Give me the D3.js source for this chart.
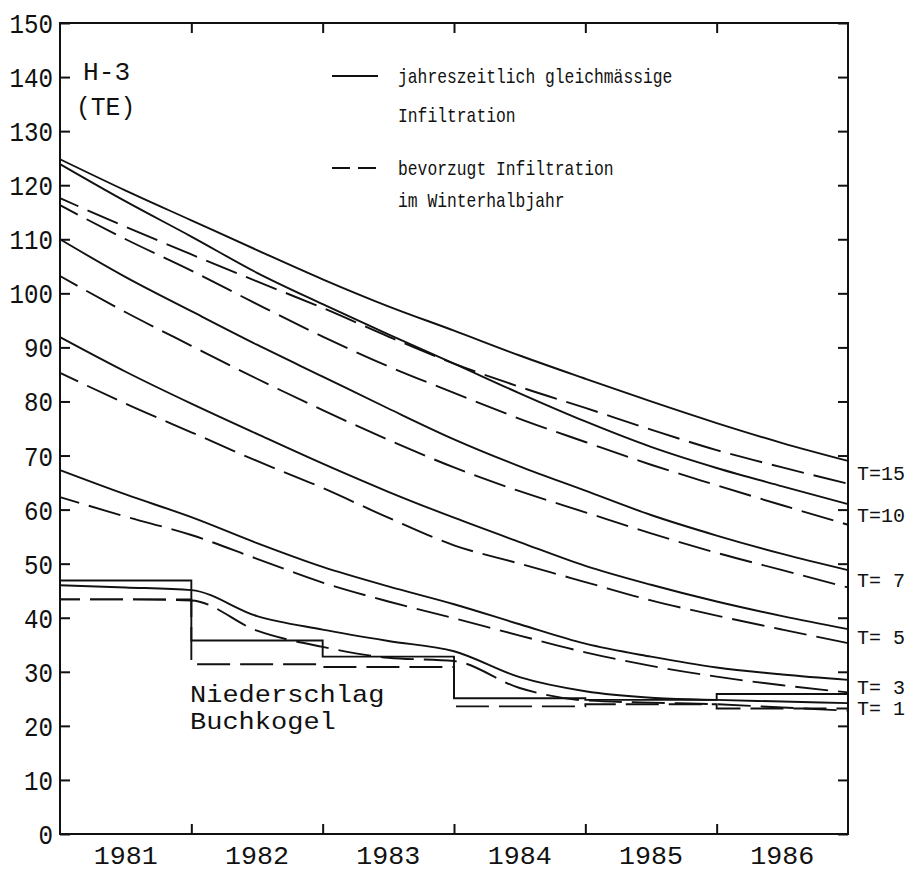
<!DOCTYPE html>
<html>
<head>
<meta charset="utf-8">
<script src="https://cdn.jsdelivr.net/npm/d3@7"></script>
<style>
  body { margin: 0; background: #fff; }
  svg text { font-family: "Liberation Mono", "DejaVu Sans Mono", monospace; fill: #111; }
</style>
</head>
<body>
<svg width="909" height="872"></svg>
<script>
// time axis: half-year sample points and year labels
var tPts = [1981, 1981.5, 1982, 1982.5, 1983, 1983.5, 1984, 1984.5, 1985, 1985.5, 1986, 1986.5, 1987];
var years = [1981, 1982, 1983, 1984, 1985, 1986];
var yearEdges = [1982, 1983, 1984, 1985, 1986];
var yTicks = [0, 10, 20, 30, 40, 50, 60, 70, 80, 90, 100, 110, 120, 130, 140, 150];

// model curves (TE)
var t15Solid  = [124.8, 119.0, 113.5, 108.0, 102.6, 97.6, 93.1, 88.5, 84.2, 80.0, 76.0, 72.3, 69.0];
var t15Dashed = [117.6, 112.3, 107.2, 102.2, 97.3, 92.0, 87.0, 82.7, 78.8, 74.8, 71.0, 67.8, 64.8];
var t10Solid  = [123.9, 117.0, 110.5, 103.8, 98.0, 92.4, 87.0, 81.5, 76.3, 71.6, 67.7, 64.3, 61.0];
var t10Dashed = [116.3, 110.0, 104.2, 98.0, 92.0, 86.5, 81.6, 76.8, 72.5, 68.3, 64.5, 60.8, 57.2];
var t7Solid   = [110.0, 103.0, 96.7, 90.5, 84.6, 78.7, 73.0, 68.0, 63.5, 59.0, 55.2, 51.8, 48.8];
var t7Dashed  = [103.2, 96.5, 90.3, 84.2, 78.4, 72.9, 67.8, 63.4, 59.5, 55.6, 52.0, 48.8, 45.6];
var t5Solid   = [91.9, 85.5, 79.6, 74.0, 68.5, 63.3, 58.5, 54.0, 49.6, 46.1, 43.0, 40.3, 37.9];
var t5Dashed  = [85.3, 79.6, 74.3, 69.0, 64.0, 58.5, 53.4, 50.0, 46.6, 43.2, 40.4, 37.8, 35.3];
var t3Solid   = [67.3, 62.8, 58.6, 53.8, 49.4, 45.8, 42.5, 38.8, 35.2, 32.8, 30.8, 29.5, 28.5];
var t3Dashed  = [62.3, 58.7, 55.3, 50.9, 46.5, 43.0, 39.9, 36.7, 33.6, 31.1, 29.1, 27.5, 26.2];
var t1Solid   = [46.0, 45.6, 45.1, 40.3, 37.8, 35.7, 33.8, 29.0, 26.4, 25.2, 24.8, 24.5, 24.2];
var t1Dashed  = [43.4, 43.4, 43.2, 37.6, 34.6, 32.6, 32.0, 27.0, 24.7, 24.3, 24.0, 23.4, 22.8];

// annual precipitation input Buchkogel (steps)
var niederschlagSolid  = [46.9, 35.8, 32.8, 25.1, 24.8, 25.9];
var niederschlagDashed = [43.4, 31.4, 30.9, 23.6, 24.0, 23.2];

var tLabels = ["T=15", "T=10", "T= 7", "T= 5", "T= 3", "T= 1"];
var series = [
  [t15Solid, t15Dashed], [t10Solid, t10Dashed], [t7Solid, t7Dashed],
  [t5Solid, t5Dashed], [t3Solid, t3Dashed], [t1Solid, t1Dashed]
];

(function() {
var svg = d3.select("svg");
svg.append("rect").attr("width", 909).attr("height", 872).attr("fill", "#fff");

var pLeft = 60, pRight = 848, pTop = 23, pBottom = 834;
var x = d3.scaleLinear().domain([1981, 1987]).range([pLeft, pRight]);
var y = d3.scaleLinear().domain([0, 150]).range([pBottom, pTop]);

// helper for squeezed plotter-like text
function label(g, px, py, s, size, cw, anchor) {
  return g.append("text")
    .attr("x", px).attr("y", py)
    .attr("font-size", size)
    .attr("text-anchor", anchor || "start")
    .attr("textLength", s.length * cw)
    .attr("lengthAdjust", "spacingAndGlyphs")
    .text(s);
}

// axes (ticks pointing inward)
function styleAxis(g) {
  g.select(".domain").remove();
  g.selectAll("line").attr("stroke", "#111").attr("stroke-width", 2);
  g.selectAll("text").remove();
}
svg.append("g").attr("transform", "translate(" + pLeft + ",0)")
  .call(d3.axisRight(y).tickValues(yTicks).tickSize(10)).call(styleAxis);
svg.append("g").attr("transform", "translate(" + pRight + ",0)")
  .call(d3.axisLeft(y).tickValues(yTicks).tickSize(10)).call(styleAxis);
svg.append("g").attr("transform", "translate(0," + pTop + ")")
  .call(d3.axisBottom(x).tickValues(yearEdges).tickSize(10)).call(styleAxis);
svg.append("g").attr("transform", "translate(0," + pBottom + ")")
  .call(d3.axisTop(x).tickValues(yearEdges).tickSize(10)).call(styleAxis);

svg.append("rect")
  .attr("x", pLeft).attr("y", pTop)
  .attr("width", pRight - pLeft).attr("height", pBottom - pTop)
  .attr("fill", "none").attr("stroke", "#111").attr("stroke-width", 2);

// tick labels
var lab = svg.append("g");
yTicks.forEach(function(v) {
  label(lab, 53, y(v) + 10, String(v), 27, 14.5, "end");
});
years.forEach(function(yr) {
  label(lab, x(yr + 0.5), 864, String(yr), 25, 16, "middle");
});

// curves
var line = d3.line()
  .x(function(d, i) { return x(tPts[i]); })
  .y(function(d) { return y(d); })
  .curve(d3.curveMonotoneX);

var curves = svg.append("g").attr("fill", "none").attr("stroke", "#111").attr("stroke-width", 1.9);
series.forEach(function(pair, k) {
  curves.append("path").attr("d", line(pair[0]));
  curves.append("path").attr("d", line(pair[1]))
    .attr("stroke-dasharray", "33,10").attr("stroke-dashoffset", 13);
  var mid = (pair[0][pair[0].length - 1] + pair[1][pair[1].length - 1]) / 2;
  label(lab, 857, y(mid) + 8, tLabels[k], 21, 12, "start");
});

// precipitation steps
var step = d3.line()
  .x(function(d) { return x(d[0]); })
  .y(function(d) { return y(d[1]); })
  .curve(d3.curveStepAfter);
function stepData(vals) {
  var pts = vals.map(function(v, i) { return [years[i], v]; });
  pts.push([1987, vals[vals.length - 1]]);
  return pts;
}
curves.append("path").attr("d", step(stepData(niederschlagSolid)));
curves.append("path").attr("d", step(stepData(niederschlagDashed)))
  .attr("stroke-dasharray", "33,10").attr("stroke-dashoffset", 13);

// texts in the plot
label(lab, 83, 80, "H-3", 25, 15.7, "start");
label(lab, 76, 115, "(TE)", 25, 14.8, "start");
label(lab, 190, 702, "Niederschlag", 24, 16.2, "start");
label(lab, 190, 729, "Buchkogel", 24, 16.2, "start");

// legend
var leg = svg.append("g");
leg.append("line").attr("x1", 332).attr("x2", 378).attr("y1", 76).attr("y2", 76)
  .attr("stroke", "#111").attr("stroke-width", 2);
leg.append("line").attr("x1", 332).attr("x2", 378).attr("y1", 168).attr("y2", 168)
  .attr("stroke", "#111").attr("stroke-width", 2).attr("stroke-dasharray", "18,8");
label(leg, 398, 83, "jahreszeitlich gleichmässige", 21, 9.8, "start");
label(leg, 398, 122, "Infiltration", 21, 9.8, "start");
label(leg, 398, 175, "bevorzugt Infiltration", 21, 9.8, "start");
label(leg, 398, 207, "im Winterhalbjahr", 21, 9.8, "start");
})();
</script>
</body>
</html>
